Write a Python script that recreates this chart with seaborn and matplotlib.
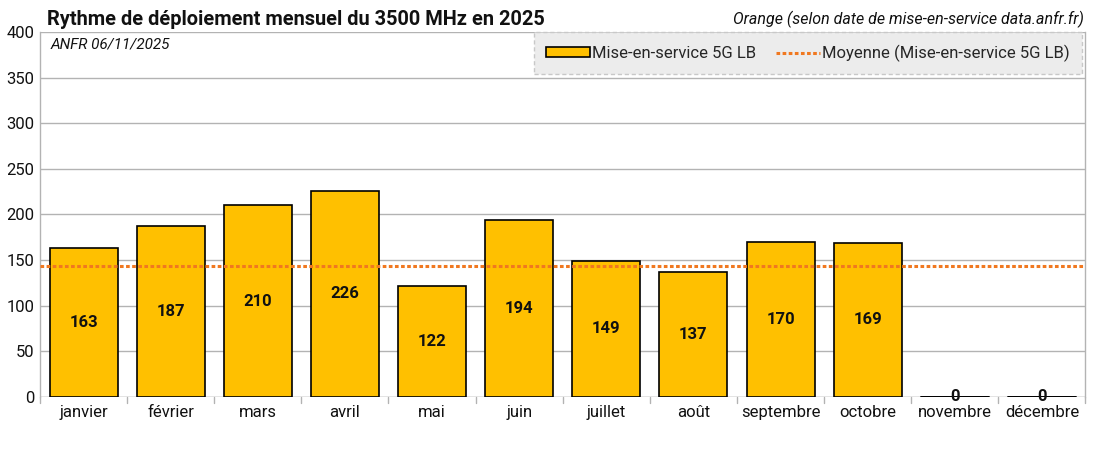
import numpy as np
import pandas as pd
import matplotlib.pyplot as plt
import seaborn as sns

# Data
mois = ["janvier", "février", "mars", "avril", "mai", "juin", "juillet",
        "août", "septembre", "octobre", "novembre", "décembre"]
mises_en_service = [163, 187, 210, 226, 122, 194, 149, 137, 170, 169, 0, 0]

df = pd.DataFrame({"mois": mois, "valeur": mises_en_service})
moyenne = np.mean(mises_en_service)

sns.set_theme(style="white")
plt.rcParams["font.family"] = ["Roboto", "DejaVu Sans"]

fig = plt.figure(figsize=(11.11, 4.5), dpi=100)
ax = fig.add_axes([0.036, 0.118, 0.941, 0.811])

sns.barplot(data=df, x="mois", y="valeur", color="#FFC000", saturation=1,
            edgecolor="black", linewidth=1.2, width=0.78, ax=ax,
            label="Mise-en-service 5G LB", zorder=3)
ax.axhline(moyenne, color="#F07820", linestyle=(0, (1.2, 0.8)), linewidth=2.2,
           label="Moyenne (Mise-en-service 5G LB)", zorder=4)

# zero bars: draw as flat line
for i, v in enumerate(mises_en_service):
    if v == 0:
        ax.plot([i - 0.39, i + 0.39], [0, 0], color="black", lw=1.4, zorder=5)
        ax.text(i, 0, "0", ha="center", va="center", fontsize=12,
                fontweight="bold", color="#111111", zorder=6)
    else:
        ax.text(i, v / 2, str(v), ha="center", va="center", fontsize=12,
                fontweight="bold", color="#111111", zorder=6)

ax.set_ylim(0, 400)
ax.set_xlim(-0.5, 11.5)
ax.set_yticks(range(0, 401, 50))
ax.yaxis.grid(True, color="#b3b3b3", linewidth=1)
ax.set_axisbelow(True)
ax.set_xlabel("")
ax.set_ylabel("")
ax.tick_params(axis="y", labelsize=12, length=0, pad=4, colors="#111111")
ax.tick_params(axis="x", labelsize=12, length=0, pad=6, colors="#111111")
for s in ["top", "bottom"]:
    ax.spines[s].set_visible(False)
for s in ["left", "right"]:
    ax.spines[s].set_color("#b3b3b3")
    ax.spines[s].set_linewidth(1)
ax.axhline(0, color="#b3b3b3", lw=1, zorder=2)

# category boundary ticks below the axis
for b in np.arange(-0.5, 12, 1):
    ax.plot([b, b], [0, -7], color="#b3b3b3", lw=1, clip_on=False)

handles, labels = ax.get_legend_handles_labels()
order = [labels.index("Mise-en-service 5G LB"),
         labels.index("Moyenne (Mise-en-service 5G LB)")]
leg = ax.legend([handles[k] for k in order], [labels[k] for k in order],
                loc="upper right", ncol=2, fontsize=12, frameon=True,
                fancybox=False, bbox_to_anchor=(0.997, 1.0), borderaxespad=0,
                borderpad=0.75, handlelength=2.6, handleheight=0.5,
                handletextpad=0.15, columnspacing=1.2)
frame = leg.get_frame()
frame.set_facecolor("#ececec")
frame.set_edgecolor("#c8c8c8")
frame.set_linestyle((0, (3, 2)))
frame.set_alpha(1)

fig.text(0.042, 0.957, "Rythme de déploiement mensuel du 3500 MHz en 2025",
         fontsize=14.4, fontweight="bold", ha="left", va="center", color="#111111")
fig.text(0.976, 0.957, "Orange (selon date de mise-en-service data.anfr.fr)",
         fontsize=11.5, style="italic", ha="right", va="center", color="#111111")
ax.text(0.01, 0.985, "ANFR 06/11/2025", transform=ax.transAxes,
        fontsize=11, style="italic", ha="left", va="top", color="#111111")

plt.savefig("out.png", dpi=100)
